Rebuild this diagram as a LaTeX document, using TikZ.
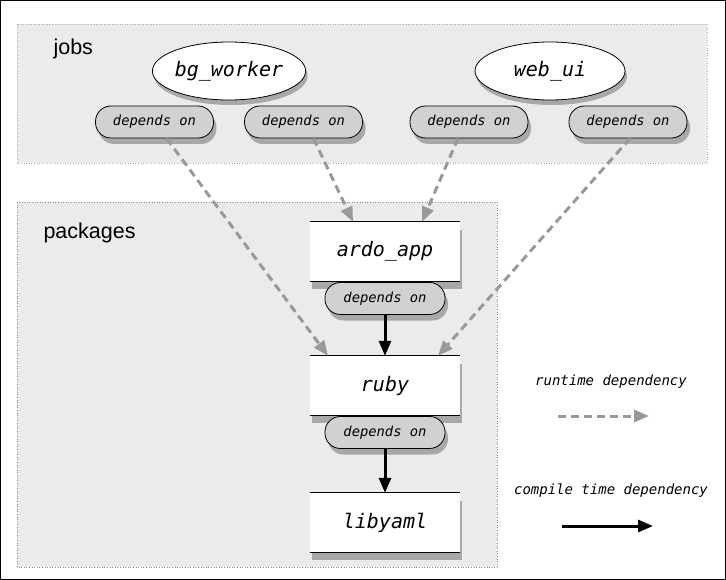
\documentclass[tikz,border=0pt]{standalone}
\usepackage{fontspec}
\setmainfont{Liberation Sans}
\newfontfamily\codefont{DejaVu Sans Mono}
\usetikzlibrary{arrows.meta, shadows, shapes.geometric}

\begin{document}
\begin{tikzpicture}[x=1pt, y=-1pt, node distance=47pt,
		>={Triangle[length=15pt,width=12pt]},
		cluster/.style={fill=black!8, draw=black!45, dotted, line width=0.6pt},
		jobvertex/.style={ellipse, draw, fill=white, line width=0.8pt,
			minimum width=150pt, minimum height=58pt, inner sep=0pt,
			font=\codefont\itshape\fontsize{20}{24}\selectfont,
			drop shadow={shadow xshift=2pt, shadow yshift=-5pt, fill=black!60}},
		pkgvertex/.style={rectangle, fill=white,
			minimum width=150pt, minimum height=59pt, inner sep=0pt,
			font=\codefont\itshape\fontsize{20}{24}\selectfont,
			drop shadow={shadow xshift=2pt, shadow yshift=-8pt, fill=black!60}},
		smallvertex/.style={rectangle, rounded corners=15.5pt, draw, fill=black!18,
			line width=0.8pt, minimum width=118pt, minimum height=32pt, inner sep=0pt,
			font=\codefont\itshape\fontsize{13.8}{16}\selectfont,
			drop shadow={shadow xshift=3pt, shadow yshift=-6pt, fill=black!60}},
		runtime/.style={->, draw=black!40, line width=3pt, dash pattern=on 8pt off 5pt},
		compiletime/.style={->, line width=3pt},
		legend/.style={font=\codefont\itshape\fontsize{14}{16}\selectfont}
		]
		\useasboundingbox (0,0) rectangle (726,580);
		\draw[line width=1.2pt] (0.6,0.6) rectangle (725.4,579.4);
		
		% clusters
		\draw[cluster, draw=black!30] (17,24) rectangle (707,163);
		\draw[cluster] (17,202) rectangle (497,567);
		\node[font=\fontsize{21.5}{24}\selectfont, anchor=west](C0) at (50,49){jobs};
		\node[font=\fontsize{21.5}{24}\selectfont, anchor=west](C1) at (40,233){packages};
		
		% jobs
		\node[jobvertex](B0) at (229,71){bg\_worker};
		\node[jobvertex](W0) at (550,71){web\_ui};
		\node[smallvertex, below of = B0, xshift = -74.5pt, yshift = -4pt](D1){depends on};
		\node[smallvertex, below of = B0, xshift = 74.5pt, yshift = -4pt](D2){depends on};
		\node[smallvertex, below of = W0, xshift = -81pt, yshift = -4pt](D3){depends on};
		\node[smallvertex, below of = W0, xshift = 78pt, yshift = -4pt](D4){depends on};
		
		% packages
		\node[pkgvertex](A0) at (385,251.5){ardo\_app};
		\node[smallvertex, minimum width=120pt, below of = A0](D5){depends on};
		\node[pkgvertex, below of = D5, yshift = -40pt](R0){ruby};
		\node[smallvertex, minimum width=120pt, below of = R0](D6){depends on};
		\node[pkgvertex, below of = D6, yshift = -43pt](L0){libyaml};
		\foreach \n in {A0,R0,L0}
			\draw[line width=0.8pt] (\n.north west) -- (\n.north east)
				(\n.south west) -- (\n.south east);
		
		\draw[compiletime] (D5) -- (R0);
		\draw[compiletime] (D6) -- (L0);
		\draw[runtime] ([xshift=12pt]D1.south) -- ([xshift=-57pt]R0.north);
		\draw[runtime] ([xshift=10pt]D2.south) -- ([xshift=-32pt]A0.north);
		\draw[runtime] ([xshift=-11pt]D3.south) -- ([xshift=37pt]A0.north);
		\draw[runtime] ([xshift=2pt]D4.south) -- ([xshift=53pt]R0.north);
		
		% legend
		\node[legend](T1) at (611,382){runtime dependency};
		\coordinate[below of = T1, yshift = 13pt, xshift = -53pt](T1a);
		\coordinate[below of = T1, yshift = 13pt, xshift = 38pt](T1b);
		\draw[runtime] (T1a) -- (T1b);
		\node[legend](T2) at (611,491){compile time dependency};
		\coordinate[below of = T2, yshift = 12pt, xshift = -49pt](T2a);
		\coordinate[below of = T2, yshift = 12pt, xshift = 42pt](T2b);
		\draw[compiletime] (T2a) -- (T2b);
	\end{tikzpicture}
\end{document}
